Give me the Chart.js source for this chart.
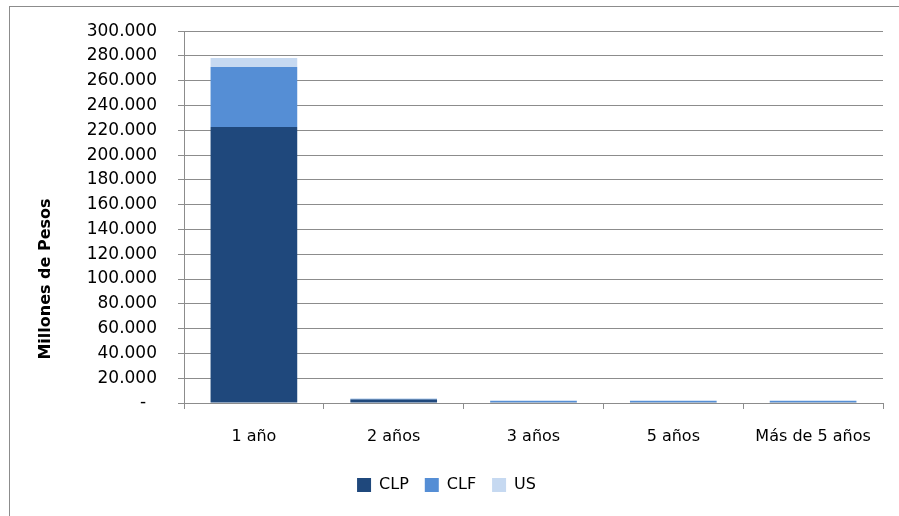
<!DOCTYPE html>
<html>
<head>
<meta charset="utf-8">
<script src="https://cdn.jsdelivr.net/npm/chart.js@4/dist/chart.umd.min.js"></script>
<style>
    html, body { margin: 0; padding: 0; background: #fff; }
    #chart { display: block; }
</style>
</head>
<body>
<canvas id="chart" width="899" height="516"></canvas>
<script>
// plazos
const categories = ['1 año', '2 años', '3 años', '5 años', 'Más de 5 años'];

// series en millones de pesos
const clpValues = [222600, 2900, 700, 700, 700];
const clfValues = [48500, 600, 1200, 1200, 1200];
const usValues = [7300, 0, 0, 0, 0];

const yTitle = 'Millones de Pesos';
const fontFamily = '"DejaVu Sans", Verdana, sans-serif';
const gridColor = '#8c8c8c';

// marco exterior del gráfico
const framePlugin = {
    id: 'frame',
    beforeDraw(chart) {
        const ctx = chart.ctx;
        ctx.save();
        ctx.fillStyle = '#fff';
        ctx.fillRect(0, 0, chart.width, chart.height);
        ctx.strokeStyle = '#8c8c8c';
        ctx.lineWidth = 1;
        ctx.strokeRect(9.5, 6.5, chart.width + 20, chart.height + 20);
        ctx.restore();
    }
};

// título del eje Y (en el original no está centrado respecto al área)
const yTitlePlugin = {
    id: 'yTitle',
    afterDraw(chart) {
        const ctx = chart.ctx;
        ctx.save();
        ctx.translate(46, 279);
        ctx.rotate(-Math.PI / 2);
        ctx.font = 'bold 16px ' + fontFamily;
        ctx.fillStyle = '#000';
        ctx.textAlign = 'center';
        ctx.textBaseline = 'middle';
        ctx.fillText(yTitle, 0, 0);
        ctx.restore();
    }
};

new Chart(document.getElementById('chart'), {
    type: 'bar',
    data: {
        labels: categories,
        datasets: [
            { label: 'CLP', data: clpValues, backgroundColor: '#1f487c' },
            { label: 'CLF', data: clfValues, backgroundColor: '#558ed5' },
            { label: 'US', data: usValues, backgroundColor: '#c6d9f1' }
        ]
    },
    options: {
        responsive: false,
        animation: false,
        devicePixelRatio: 1,
        layout: {
            padding: { left: 10, top: 31, right: 16, bottom: 13 }
        },
        datasets: {
            bar: {
                categoryPercentage: 1.0,
                barPercentage: 0.62,
                borderWidth: 0
            }
        },
        scales: {
            x: {
                stacked: true,
                grid: {
                    offset: true,
                    drawOnChartArea: false,
                    tickLength: 6,
                    color: gridColor
                },
                border: { color: gridColor, width: 1 },
                ticks: {
                    color: '#000',
                    padding: 18,
                    font: { family: fontFamily, size: 16 }
                },
                afterFit(scale) {
                    scale.height = 58;
                }
            },
            y: {
                stacked: true,
                min: 0,
                max: 300000,
                grid: {
                    color: gridColor,
                    tickLength: 6
                },
                border: { color: gridColor, width: 1 },
                ticks: {
                    stepSize: 20000,
                    color: '#000',
                    padding: 21,
                    font: { family: fontFamily, size: 17 },
                    callback: function(value) {
                        if (value === 0) return '-  ';
                        return value.toLocaleString('de-DE');
                    }
                },
                afterFit(scale) {
                    scale.width = 174;
                }
            }
        },
        plugins: {
            legend: {
                position: 'bottom',
                labels: {
                    boxWidth: 14,
                    boxHeight: 14,
                    padding: 16,
                    color: '#000',
                    font: { family: fontFamily, size: 16 }
                }
            },
            tooltip: { enabled: false }
        }
    },
    plugins: [framePlugin, yTitlePlugin]
});
</script>
</body>
</html>
